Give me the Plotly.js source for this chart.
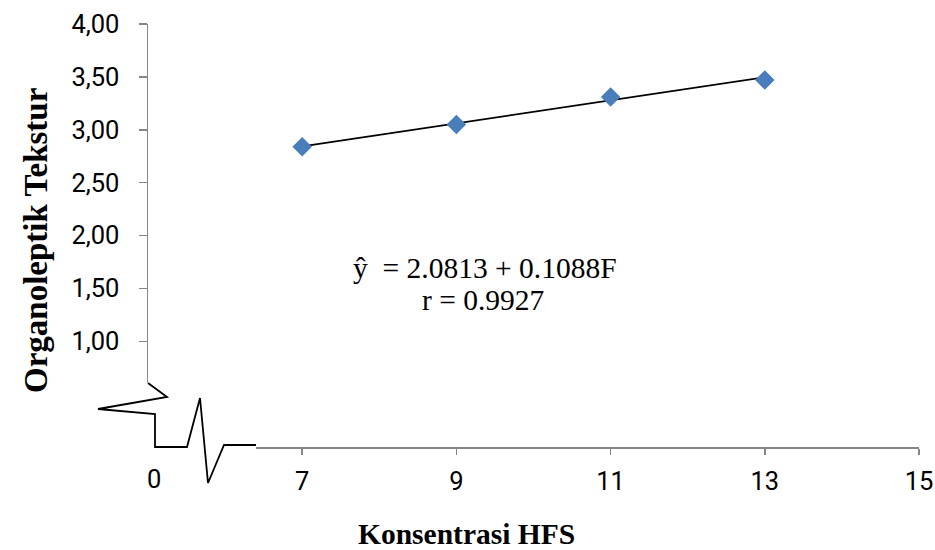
<!DOCTYPE html>
<html><head><meta charset="utf-8">
<script src="https://cdn.plot.ly/plotly-3.0.1.min.js"></script>
<style>html,body{margin:0;padding:0;background:#fff}</style></head>
<body>
<div id="chart" style="width:935px;height:550px"></div>
<script>
// Data
const konsentrasi = [7, 9, 11, 13];
const tekstur = [2.84, 3.05, 3.31, 3.47];
const trendX = [7, 13];
const trendY = [2.843, 3.496];
const xTickVals = [7, 9, 11, 13, 15];
const xTickText = ['7', '9', '11', '13', '15'];
const yTickVals = [1, 1.5, 2, 2.5, 3, 3.5, 4];
const xTitle = 'Konsentrasi HFS';
const yTitle = 'Organoleptik Tekstur';
const equationLine = 'ŷ  = 2.0813 + 0.1088F';
const rLine = 'r = 0.9927';

const W = 935, H = 550;
const M = {l: 148, r: 16, t: 24, b: 103};
const pw = W - M.l - M.r, ph = H - M.t - M.b;
function px(x) { return (x - M.l) / pw; }
function py(y) { return (H - M.b - y) / ph; }
function pt(x, y) { return px(x).toFixed(5) + ',' + py(y).toFixed(5); }

const breakPts = [[148,383],[167,397],[98,409],[155,414],[155,447],[187,447],[200,398],[208,483],[224,445],[256,445]];
const breakPath = 'M' + breakPts.map(p => pt(p[0], p[1])).join(' L');

const tickFont = {family: 'Roboto, Arial, sans-serif', size: 25.5, color: '#000'};
const serif = '"Liberation Serif", "Times New Roman", serif';
const eqFont = {family: serif, size: 29.5, color: '#000'};

const traces = [
  {x: trendX, y: trendY, mode: 'lines', type: 'scatter',
   line: {color: '#000', width: 1.6}, hoverinfo: 'skip', showlegend: false},
  {x: konsentrasi, y: tekstur, mode: 'markers', type: 'scatter',
   marker: {symbol: 'diamond', size: 15, color: '#4a7ebb'}, showlegend: false}
];

const layout = {
  width: W, height: H,
  margin: M,
  paper_bgcolor: '#fff', plot_bgcolor: '#fff',
  separators: ',.',
  showlegend: false,
  xaxis: {
    range: [5, 15], tickvals: xTickVals, ticktext: xTickText,
    showgrid: false, zeroline: false, showline: true,
    linecolor: '#868686', linewidth: 1.5,
    ticks: 'outside', ticklen: 6, tickcolor: '#868686', tickwidth: 1.5,
    tickfont: tickFont, ticklabelstandoff: 5
  },
  yaxis: {
    range: [0, 4], tickvals: yTickVals, tickformat: '.2f',
    showgrid: false, zeroline: false, showline: true,
    linecolor: '#868686', linewidth: 1.5,
    ticks: 'outside', ticklen: 8, tickcolor: '#868686', tickwidth: 1.5,
    tickfont: tickFont, ticklabelstandoff: 14
  },
  annotations: [
    {xref: 'x', yref: 'paper', x: 5, y: 0, xshift: 6, yshift: -15, yanchor: 'top',
     text: '0', showarrow: false, font: tickFont},
    {xref: 'paper', yref: 'paper', x: px(466), y: py(534), xanchor: 'center', yanchor: 'middle',
     text: '<b>' + xTitle + '</b>', showarrow: false,
     font: {family: serif, size: 29.5, color: '#000'}},
    {xref: 'paper', yref: 'paper', x: px(36), y: py(240), xanchor: 'center', yanchor: 'middle',
     text: '<b>' + yTitle + '</b>', showarrow: false, textangle: -90,
     font: {family: serif, size: 33, color: '#000'}},
    {xref: 'paper', yref: 'paper', x: px(485), y: py(268), xanchor: 'center', yanchor: 'middle',
     text: equationLine, showarrow: false, font: eqFont},
    {xref: 'paper', yref: 'paper', x: px(483), y: py(300), xanchor: 'center', yanchor: 'middle',
     text: rLine, showarrow: false, font: eqFont}
  ],
  shapes: [
    {type: 'rect', xref: 'paper', yref: 'paper', layer: 'above',
     x0: px(138), x1: px(256), y0: py(382.5), y1: py(457),
     fillcolor: '#fff', line: {width: 0}},
    {type: 'path', xref: 'paper', yref: 'paper', layer: 'above', path: breakPath,
     line: {color: '#000', width: 1.8}}
  ]
};

Plotly.newPlot('chart', traces, layout, {displayModeBar: false, staticPlot: true});
</script>
</body></html>
